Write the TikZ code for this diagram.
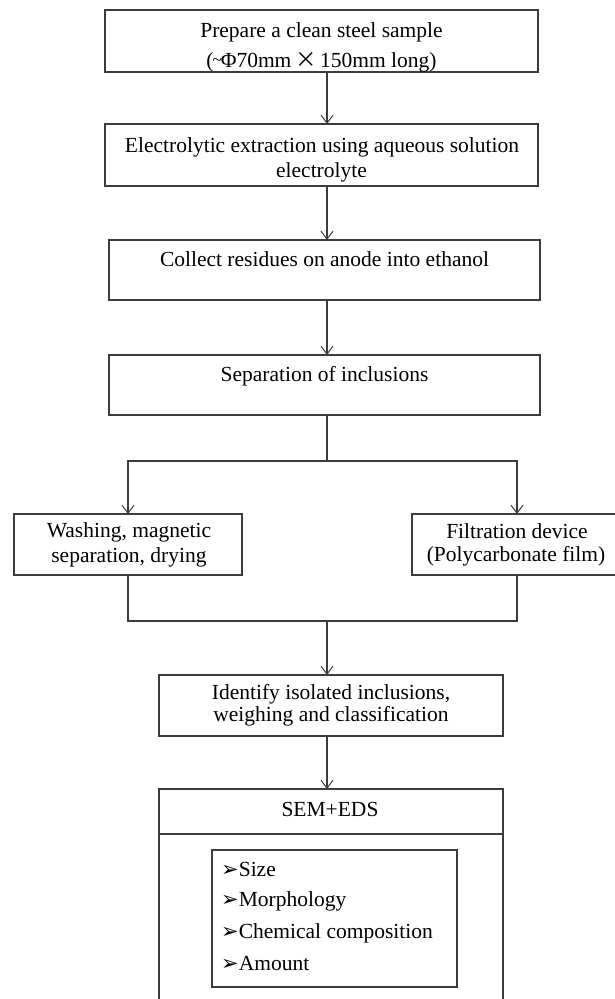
\documentclass[tikz,border=0pt]{standalone}
\usepackage{fontspec}
\setmainfont{Liberation Serif}
\newfontfamily\cjk{Noto Sans CJK SC}
\newfontfamily\symfont{DejaVu Sans}
\usetikzlibrary{arrows.meta}
\definecolor{linec}{RGB}{60,60,60}
\newcommand{\bul}{{\symfont\fontsize{21}{22}\selectfont ➢}}
\begin{document}
\begin{tikzpicture}[x=1pt,y=-1pt,
  box/.style={draw=linec, line width=1.1pt, inner sep=0pt, outer sep=0pt},
  conn/.style={draw=linec, line width=1.1pt},
  arr/.style={conn, -{Straight Barb[length=8pt,width=12pt,line width=1pt]}},
  txt/.style={inner sep=0pt, anchor=base, font=\fontsize{21.5}{25}\selectfont},
  item/.style={inner sep=0pt, anchor=base west, font=\fontsize{21.5}{25}\selectfont}]
\useasboundingbox (0,0) rectangle (615,999);
\clip (0,0) rectangle (615,999);
\fill[white] (0,0) rectangle (615,999);
\coordinate (ax) at (327,0);
% boxes
\node[box, minimum width=433pt, minimum height=62pt] (b1) at (321.5,41) {};
\node[box, minimum width=433pt, minimum height=62pt] (b2) at (321.5,155) {};
\node[box, minimum width=431pt, minimum height=60pt] (b3) at (324.5,270) {};
\node[box, minimum width=431pt, minimum height=60pt] (b4) at (324.5,385) {};
\node[box, minimum width=228pt, minimum height=61pt] (bl) at (128,544.5) {};
\node[box, minimum width=210pt, minimum height=61pt] (br) at (517,544.5) {};
\node[box, minimum width=344pt, minimum height=61pt] (b5) at (331,705.5) {};
\node[box, minimum width=344pt, minimum height=45pt] (b6h) at (331,811.5) {};
\node[box, minimum width=344pt, minimum height=176pt] (b6b) at (331,922) {};
\node[box, minimum width=245pt, minimum height=137pt] (b6i) at (334.5,918.5) {};
% texts
\node[txt] (t1a) at (321.5,37) {Prepare a clean steel sample};
\node[txt] (t1b) at (321.5,67) {(\kern-1pt\raisebox{2pt}{\fontsize{17}{20}\selectfont\textasciitilde}\kern-1ptΦ70mm\,{\cjk ×}\,150mm long)};
\node[txt] (t2a) at (322,152) {Electrolytic extraction using aqueous solution};
\node[txt] (t2b) at (321.5,177) {electrolyte};
\node[txt] (t3) at (324.5,266) {Collect residues on anode into ethanol};
\node[txt] (t4) at (324.5,381) {Separation of inclusions};
\node[txt] (tla) at (129,537) {Washing, magnetic};
\node[txt] (tlb) at (129,562) {separation, drying};
\node[txt] (tra) at (517,538) {Filtration device};
\node[txt] (trb) at (516,561) {(Polycarbonate film)};
\node[txt] (t5a) at (331,699) {Identify isolated inclusions,};
\node[txt] (t5b) at (331,721) {weighing and classification};
\node[txt] (t6) at (330,816) {SEM+EDS};
\node[item] (i1) at (221,876) {\bul Size};
\node[item] (i2) at (221,906) {\bul Morphology};
\node[item] (i3) at (221,938) {\bul Chemical composition};
\node[item] (i4) at (221,970) {\bul Amount};
% connectors
\coordinate (split) at (327,461);
\coordinate (join) at (327,621);
\draw[arr] (b1.south -| ax) -- (b2.north -| ax);
\draw[arr] (b2.south -| ax) -- (b3.north -| ax);
\draw[arr] (b3.south -| ax) -- (b4.north -| ax);
\draw[conn] (b4.south -| ax) -- (split);
\draw[arr] (split) -| (bl.north);
\draw[arr] (split) -| (br.north);
\draw[conn] (bl.south) |- (join);
\draw[conn] (br.south) |- (join);
\draw[arr] (join) -- (b5.north -| ax);
\draw[arr] (b5.south -| ax) -- (b6h.north -| ax);
\end{tikzpicture}
\end{document}
